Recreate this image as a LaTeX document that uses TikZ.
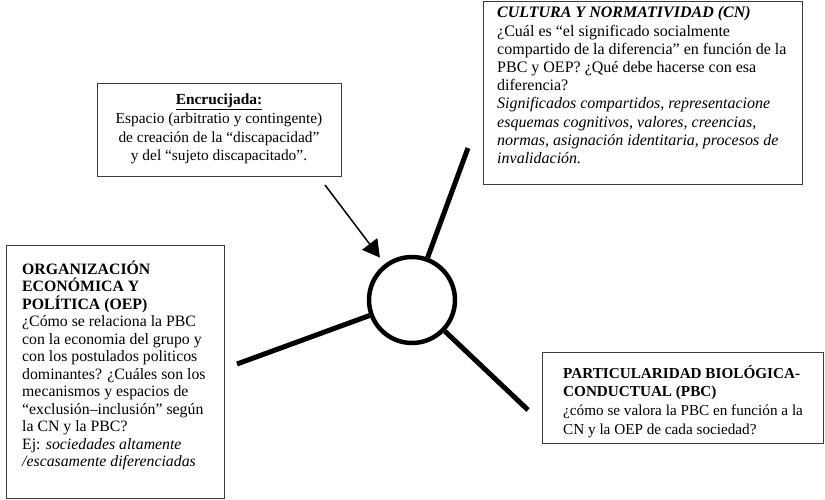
\documentclass[tikz,border=0pt]{standalone}
\usepackage{fontspec}
\setmainfont{Liberation Serif}
\usetikzlibrary{arrows.meta}
\definecolor{boxgray}{HTML}{3C3C3C}
\begin{document}
\begin{tikzpicture}[x=1pt,y=-1pt,
  box/.style={draw=boxgray,line width=1.4pt,inner sep=0pt,anchor=north west},
  txt/.style={align=left,inner sep=0pt,anchor=north west,text=black},
  spoke/.style={line width=5pt,black},
]
\useasboundingbox (0,0) rectangle (825,499);
% boxes
\node[box,minimum width=244pt,minimum height=93pt] (encbox) at (97,83) {};
\node[box,minimum width=319pt,minimum height=183pt] (cnbox) at (483,1) {};
\node[box,minimum width=218pt,minimum height=253pt] (oepbox) at (6,245) {};
\node[box,minimum width=281pt,minimum height=91pt] (pbcbox) at (542,352) {};
% texts
\node[align=center,inner sep=0pt,font=\fontsize{15.4}{18.8}\selectfont] (enctxt) at (219,129)
 {\textbf{\underline{Encrucijada:}}\\
  Espacio (arbitratio y contingente)\\
  de creación de la “discapacidad”\\
  y del “sujeto discapacitado”.};
\node[txt,font=\fontsize{16}{18.2}\selectfont] (cntxt) at (497,6.5)
 {\textbf{\textit{CULTURA Y NORMATIVIDAD (CN)}}\\
  ¿Cuál es “el significado socialmente\\
  compartido de la diferencia” en función de la\\
  PBC y OEP? ¿Qué debe hacerse con esa\\
  diferencia?\\
  \textit{Significados compartidos, representacione}\\
  \textit{esquemas cognitivos, valores, creencias,}\\
  \textit{normas, asignación identitaria, procesos de}\\
  \textit{invalidación.}};
\node[txt,font=\fontsize{15.8}{17.5}\selectfont] (oeptxt) at (22,260.5)
 {\textbf{ORGANIZACIÓN}\\
  \textbf{ECONÓMICA Y}\\
  \textbf{POLÍTICA (OEP)}\\
  ¿Cómo se relaciona la PBC\\
  con la economia del grupo y\\
  con los postulados politicos\\
  dominantes? ¿Cuáles son los\\
  mecanismos y espacios de\\
  “exclusión–inclusión” según\\
  la CN y la PBC?\\
  Ej: \textit{sociedades altamente}\\
  \textit{/escasamente diferenciadas}};
\node[txt,font=\fontsize{15.2}{18.6}\selectfont] (pbctxt) at (563,365)
 {\textbf{PARTICULARIDAD BIOLÓGICA-}\\
  \textbf{CONDUCTUAL (PBC)}\\
  ¿cómo se valora la PBC en función a la\\
  CN y la OEP de cada sociedad?};
% hub and spokes
\node[circle,draw=black,line width=4.5pt,minimum size=86pt,inner sep=0pt] (hub) at (412,300) {};
\coordinate (endcn) at (468,148);
\coordinate (endoep) at (237,364);
\coordinate (endpbc) at (528,410);
\draw[spoke] (hub) -- (endcn);
\draw[spoke] (hub) -- (endoep);
\draw[spoke] (hub) -- (endpbc);
% arrow
\coordinate (arrstart) at (325,185);
\draw[line width=1.5pt,-{Triangle[length=17pt,width=19pt]},shorten >=8pt] (arrstart) -- (hub);
\end{tikzpicture}
\end{document}
